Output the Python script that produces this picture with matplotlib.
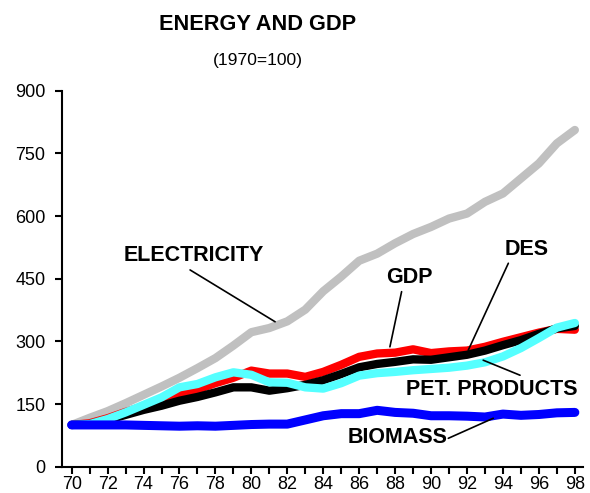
import matplotlib
matplotlib.use("Agg")
import matplotlib.pyplot as plt
from matplotlib.ticker import MultipleLocator

years = list(range(70, 99))
electricity = [100, 117, 133, 152, 172, 192, 213, 236, 260, 290, 322, 332, 348, 376, 420,
               455, 493, 510, 535, 557, 574, 594, 606, 634, 654, 690, 726, 774, 806]
gdp = [100, 104, 116, 131, 145, 157, 176, 185, 200, 213, 230, 223, 223, 215, 227,
       244, 263, 271, 273, 281, 272, 276, 278, 287, 299, 310, 321, 330, 328]
des = [100, 102, 112, 124, 136, 146, 158, 167, 178, 190, 190, 182, 188, 196, 207,
       222, 238, 246, 251, 257, 256, 262, 268, 278, 291, 303, 318, 331, 337]
pet_products = [100, 102, 114, 130, 148, 166, 190, 198, 214, 226, 220, 202, 201, 190, 187,
                200, 218, 224, 227, 231, 234, 237, 242, 250, 264, 284, 308, 333, 344]
biomass = [100, 100, 100, 100, 99, 98, 97, 98, 97, 99, 101, 102, 102, 112, 122,
           127, 127, 135, 130, 128, 122, 122, 121, 119, 126, 123, 125, 129, 130]

xtick_labels = [f"{y}" for y in range(70, 99, 2)]
yticks = [0, 150, 300, 450, 600, 750, 900]

plt.rcParams['font.family'] = ['Liberation Sans', 'DejaVu Sans']

fig = plt.figure(figsize=(5.9, 4.93), dpi=100)
ax = fig.add_axes([0.105, 0.0533, 0.883, 0.7627])

lw = 6.0
ax.plot(years, electricity, color='#c0c0c0', lw=lw, solid_capstyle='round', solid_joinstyle='round')
ax.plot(years, gdp, color='#ff0000', lw=lw, solid_capstyle='round', solid_joinstyle='round')
ax.plot(years, des, color='#000000', lw=lw, solid_capstyle='round', solid_joinstyle='round')
ax.plot(years, pet_products, color='#55ffff', lw=lw, solid_capstyle='round', solid_joinstyle='round')
ax.plot(years, biomass, color='#0000ff', lw=6.5, solid_capstyle='round', solid_joinstyle='round')

ax.set_xlim(69.46, 98.45)
ax.set_ylim(0, 900)
ax.set_yticks(yticks)
ax.set_xticks(list(range(70, 99, 2)))
ax.set_xticklabels(xtick_labels)
ax.xaxis.set_minor_locator(MultipleLocator(1))
for s in ['top', 'right']:
    ax.spines[s].set_visible(False)
for s in ['left', 'bottom']:
    ax.spines[s].set_linewidth(1.5)
ax.tick_params(axis='y', direction='out', length=5, width=1.5, labelsize=13, pad=7)
ax.tick_params(axis='x', which='both', direction='out', length=5, width=1.5, labelsize=13, pad=2)

lab = dict(fontsize=15.5, fontweight='bold', ha='center', va='center')
line = dict(arrowstyle='-', color='black', lw=1.2, shrinkA=0, shrinkB=0)

ax.annotate('', xy=(81.32, 347), xytext=(76.59, 471), arrowprops=line)
ax.text(76.81, 506, 'ELECTRICITY', **lab)
ax.annotate('', xy=(87.71, 287), xytext=(88.36, 419), arrowprops=line)
ax.text(88.77, 454, 'GDP', **lab)
ax.annotate('', xy=(92.07, 279), xytext=(94.30, 487), arrowprops=line)
ax.text(95.34, 521, 'DES', **lab)
ax.annotate('', xy=(92.90, 255), xytext=(94.95, 219), arrowprops=line)
ax.text(93.39, 184, 'PET. PRODUCTS', **lab)
ax.annotate('', xy=(93.46, 116), xytext=(90.96, 68), arrowprops=line)
ax.text(88.16, 69, 'BIOMASS', **lab)

fig.text(258 / 590, 1 - 25 / 493, 'ENERGY AND GDP', fontsize=15.7, fontweight='bold',
         ha='center', va='center')
fig.text(258 / 590, 1 - 60 / 493, '(1970=100)', fontsize=12.6, ha='center', va='center')

fig.savefig('out.png', dpi=100)
